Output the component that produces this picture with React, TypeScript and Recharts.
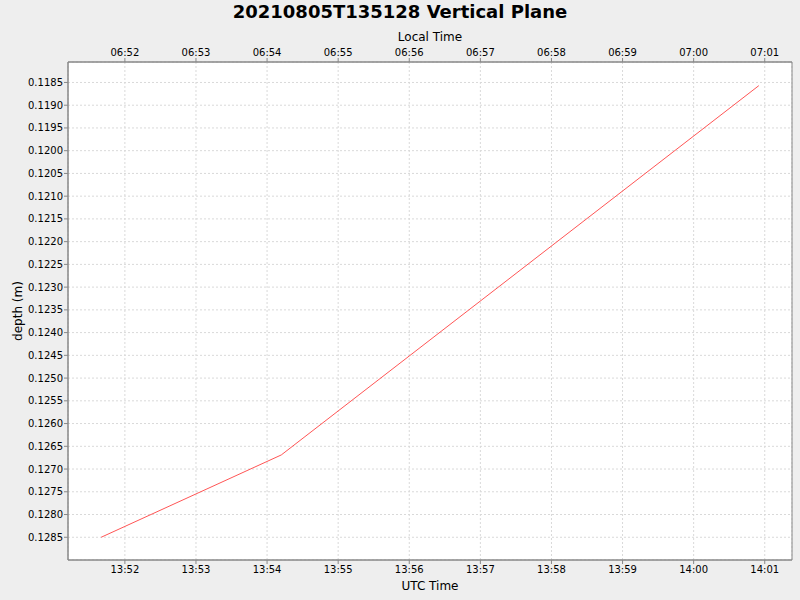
import React from "react";
import { LineChart, Line, XAxis, YAxis, CartesianGrid, ReferenceArea } from "recharts";

const utcTimes = ["13:51:40", "13:54:12", "14:00:55"];
const depths = [0.1285, 0.12669, 0.11857];

const minuteTicks = ["13:52", "13:53", "13:54", "13:55", "13:56", "13:57", "13:58", "13:59", "14:00", "14:01"];
const depthTicks = [
  0.1185, 0.119, 0.1195, 0.12, 0.1205, 0.121, 0.1215, 0.122, 0.1225, 0.123, 0.1235,
  0.124, 0.1245, 0.125, 0.1255, 0.126, 0.1265, 0.127, 0.1275, 0.128, 0.1285,
];
const xDomainLabels = ["13:51:12", "14:01:23"];
const yDomain = [0.11805, 0.129];
const localOffsetHours = -7;

const toSec = (s: string) => {
  const p = s.split(":").map(Number);
  return p[0] * 3600 + p[1] * 60 + (p[2] || 0);
};
const fmt = (sec: number) => {
  const d = ((Math.round(sec) % 86400) + 86400) % 86400;
  const h = Math.floor(d / 3600);
  const m = Math.floor((d % 3600) / 60);
  return `${String(h).padStart(2, "0")}:${String(m).padStart(2, "0")}`;
};

const data = utcTimes.map((t, i) => ({ t: toSec(t), depth: depths[i] }));
const xTicks = minuteTicks.map(toSec);
const xDomain = xDomainLabels.map(toSec);

const FONT = "'DejaVu Sans', sans-serif";
const tickStyle = { fontSize: 10, fill: "#000", fontFamily: FONT };
const axisColor = "#888888";

export default function App() {
  return (
    <div style={{ position: "absolute", left: 0, top: 0, width: 800, height: 600, background: "#eeeeee", fontFamily: FONT }}>
      <div style={{ position: "absolute", left: 0, top: 1, width: 800, textAlign: "center", fontSize: 18, fontWeight: "bold", color: "#000" }}>
        20210805T135128 Vertical Plane
      </div>
      <div style={{ position: "absolute", left: 68, top: 30, width: 724, textAlign: "center", fontSize: 12, color: "#000" }}>
        Local Time
      </div>
      <div style={{ position: "absolute", left: 68, top: 579, width: 724, textAlign: "center", fontSize: 12, color: "#000" }}>
        UTC Time
      </div>
      <div style={{ position: "absolute", left: 18, top: 311, fontSize: 12, color: "#000", transform: "translate(-50%, -50%) rotate(-90deg)", whiteSpace: "nowrap" }}>
        depth (m)
      </div>
      <div style={{ position: "absolute", left: 0, top: 0 }}>
        <LineChart width={800} height={600} data={data} margin={{ top: 40, right: 8, bottom: 18, left: 8 }}>
          <CartesianGrid xAxisId="utc" fill="#ffffff" stroke="#d9d9d9" strokeDasharray="2 2" />
          <XAxis
            xAxisId="utc"
            dataKey="t"
            type="number"
            domain={xDomain}
            ticks={xTicks}
            tickFormatter={(v: number) => fmt(v)}
            orientation="bottom"
            height={22}
            tickSize={4}
            tickMargin={2}
            tick={tickStyle}
            stroke={axisColor}
            allowDataOverflow
          />
          <XAxis
            xAxisId="local"
            dataKey="t"
            type="number"
            domain={xDomain}
            ticks={xTicks}
            tickFormatter={(v: number) => fmt(v + localOffsetHours * 3600)}
            orientation="top"
            height={22}
            tickSize={4}
            tickMargin={2}
            tick={tickStyle}
            stroke={axisColor}
            allowDataOverflow
          />
          <YAxis
            dataKey="depth"
            type="number"
            reversed
            domain={yDomain}
            ticks={depthTicks}
            tickFormatter={(v: number) => v.toFixed(4)}
            width={60}
            tickSize={4}
            tickMargin={1}
            tick={tickStyle}
            stroke={axisColor}
            allowDataOverflow
            interval={0}
          />
          <ReferenceArea
            xAxisId="utc"
            x1={xDomain[0]}
            x2={xDomain[1]}
            y1={yDomain[0]}
            y2={yDomain[1]}
            fill="none"
            stroke={axisColor}
            strokeOpacity={1}
            fillOpacity={0}
            ifOverflow="visible"
          />
          <Line xAxisId="local" dataKey="depth" stroke="none" dot={false} isAnimationActive={false} legendType="none" />
          <Line xAxisId="utc" dataKey="depth" stroke="#ff5555" strokeWidth={1} dot={false} isAnimationActive={false} />
        </LineChart>
      </div>
    </div>
  );
}
